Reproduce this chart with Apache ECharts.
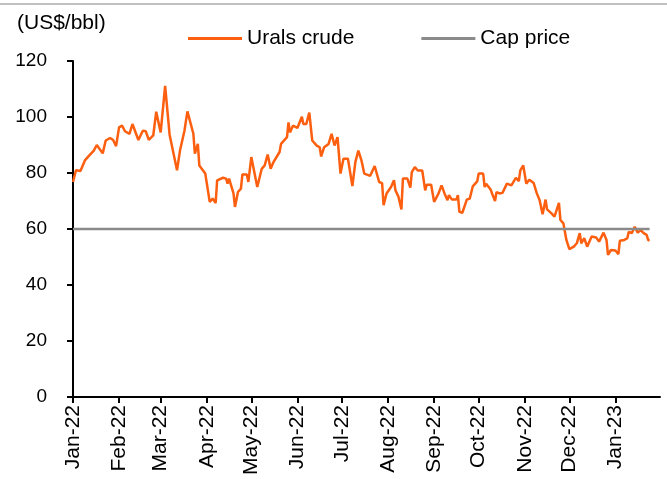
<!DOCTYPE html>
<html style="height: 100%">
<head>
<meta charset="utf-8">
<script src="https://cdn.jsdelivr.net/npm/echarts@6/dist/echarts.min.js"></script>
</head>
<body style="height: 100%; margin: 0; background: #fff">
<div id="container" style="width: 667px; height: 479px"></div>
<script type="text/javascript">
// Urals crude price (US$/bbl)
var dates = [
  '2022-01-01','2022-01-03','2022-01-06','2022-01-09','2022-01-12','2022-01-15','2022-01-17','2022-01-21','2022-01-23','2022-01-26','2022-01-28','2022-01-30',
  '2022-02-01','2022-02-03','2022-02-05','2022-02-08','2022-02-10','2022-02-14','2022-02-17','2022-02-19','2022-02-21','2022-02-24','2022-02-26',
  '2022-03-01','2022-03-04','2022-03-07','2022-03-12','2022-03-14','2022-03-17','2022-03-19','2022-03-23','2022-03-24','2022-03-26','2022-03-27','2022-03-31',
  '2022-04-03','2022-04-05','2022-04-07','2022-04-08','2022-04-12','2022-04-14','2022-04-15','2022-04-16','2022-04-19','2022-04-20','2022-04-22','2022-04-24','2022-04-25','2022-04-28','2022-04-29',
  '2022-05-01','2022-05-05','2022-05-08','2022-05-10','2022-05-12','2022-05-14','2022-05-16','2022-05-20','2022-05-21','2022-05-25','2022-05-26','2022-05-27','2022-05-29',
  '2022-06-01','2022-06-04','2022-06-05','2022-06-07','2022-06-09','2022-06-11','2022-06-14','2022-06-16','2022-06-17','2022-06-19','2022-06-22','2022-06-24','2022-06-26','2022-06-28','2022-06-30',
  '2022-07-02','2022-07-05','2022-07-07','2022-07-08','2022-07-10','2022-07-12','2022-07-14','2022-07-16','2022-07-20','2022-07-23','2022-07-26','2022-07-28','2022-07-29','2022-07-31',
  '2022-08-03','2022-08-05','2022-08-06','2022-08-08','2022-08-10','2022-08-11','2022-08-14','2022-08-16','2022-08-17','2022-08-19','2022-08-21','2022-08-24','2022-08-26','2022-08-27','2022-08-30',
  '2022-09-01','2022-09-04','2022-09-06','2022-09-08','2022-09-10','2022-09-11','2022-09-13','2022-09-16','2022-09-17','2022-09-18','2022-09-20','2022-09-23','2022-09-25','2022-09-27','2022-09-30',
  '2022-10-01','2022-10-04','2022-10-05','2022-10-06','2022-10-09','2022-10-10','2022-10-12','2022-10-13','2022-10-15','2022-10-17','2022-10-20','2022-10-23','2022-10-24','2022-10-26','2022-10-28','2022-10-29','2022-10-31',
  '2022-11-02','2022-11-04','2022-11-07','2022-11-09','2022-11-11','2022-11-13','2022-11-15','2022-11-16','2022-11-19','2022-11-21','2022-11-24','2022-11-25','2022-11-27','2022-11-29',
  '2022-12-01','2022-12-04','2022-12-06','2022-12-08','2022-12-09','2022-12-11','2022-12-13','2022-12-16','2022-12-19','2022-12-21','2022-12-24','2022-12-26','2022-12-27','2022-12-29',
  '2023-01-01','2023-01-03','2023-01-04','2023-01-07','2023-01-09','2023-01-10','2023-01-12','2023-01-14','2023-01-15','2023-01-16','2023-01-18','2023-01-20','2023-01-22','2023-01-23','2023-01-24'
];
var urals = [
  76.8, 81, 80.7, 84.5, 86.3, 88, 90, 87, 91.6, 92.5, 91.8, 89.6,
  96.3, 96.9, 94.9, 94, 97.5, 91.8, 95.1, 94.9, 91.8, 93.4, 101.9,
  94.5, 111.1, 93.7, 81, 88, 95.1, 102, 94, 86.9, 90.4, 82.7, 79.8,
  69.7, 70.9, 69.3, 77.4, 78.3, 78, 76.2, 78, 72.7, 67.9, 73.2, 74.4, 79.5, 79.5, 76.8,
  85.7, 75, 81.5, 82.7, 86.6, 81.5, 84, 87.5, 90.4, 92.8, 98.1, 94.5, 96.9,
  96.1, 100.1, 97.5, 97.5, 101.6, 91.6, 89.8, 89.2, 85.9, 89.2, 90.4, 94, 89.8, 92.8, 79.8,
  85.1, 85.1, 78.6, 75.3, 83.9, 88, 84.7, 79.8, 79, 82.5, 76.8, 76.4, 68.5, 72.7,
  75, 77.4, 73.8, 71.5, 67, 78, 78, 74.8, 80.3, 82.1, 80.9, 80.9, 73.8, 75.8, 75.8,
  69.7, 72.7, 75.6, 72.7, 70.3, 72.1, 70.5, 70.5, 72.1, 66.1, 65.8, 70.5, 70.9, 75.2, 77,
  79.8, 79.8, 75, 76.2, 74.1, 72.7, 70, 73.2, 72.7, 72.9, 76.2, 75.6, 75.3, 78.3, 77.1, 80.9, 82.7,
  76.2, 77.6, 76.4, 72.9, 70.3, 65.3, 70.5, 67, 65.6, 64.4, 69.3, 63.2, 62, 56.1,
  52.8, 53.7, 54.9, 58.5, 54.9, 56.7, 53.7, 57.3, 57, 55.5, 58.7, 56.1, 50.8, 52.5,
  52.3, 51, 55.8, 56.1, 56.7, 59, 58.5, 60.8, 61.4, 58.7, 59.6, 58.5, 57.9, 56.1, 55.8
];
var capPrice = 60;
var monthLabels = ['Jan-22','Feb-22','Mar-22','Apr-22','May-22','Jun-22','Jul-22','Aug-22','Sep-22','Oct-22','Nov-22','Dec-22','Jan-23'];
var axisStart = '2022-01-01';
var axisEnd = '2023-01-31';

// one category per calendar day so months are spaced by their length
var days = [];
var d = new Date(axisStart + 'T00:00:00Z');
var end = new Date(axisEnd + 'T00:00:00Z');
while (d <= end) {
  days.push(d.toISOString().slice(0, 10));
  d.setUTCDate(d.getUTCDate() + 1);
}
function isMonthStart(v) { return v.slice(8) === '01'; }
function monthIndex(v) {
  return (parseInt(v.slice(0, 4)) - 2022) * 12 + parseInt(v.slice(5, 7)) - 1;
}

var uralsData = dates.map(function (t, i) { return [t, urals[i]]; });
var capData = [[dates[0], capPrice], [dates[dates.length - 1], capPrice]];

var font = 'Liberation Sans, Arial, sans-serif';
var myChart = echarts.init(document.getElementById('container'));

var option = {
  animation: false,
  title: {
    text: '(US$/bbl)',
    left: 12,
    top: 8,
    textStyle: { fontFamily: font, fontSize: 21, fontWeight: 'normal', color: '#000' }
  },
  legend: {
    top: 23,
    left: 183,
    itemWidth: 54,
    itemHeight: 3,
    itemGap: 67,
    icon: 'rect',
    textStyle: { fontFamily: font, fontSize: 21, color: '#000' },
    data: ['Urals crude', 'Cap price']
  },
  graphic: [{
    type: 'line',
    shape: { x1: 0, y1: 4, x2: 667, y2: 4 },
    style: { stroke: '#c0c0c0', lineWidth: 2 }
  }],
  grid: { left: 73, right: 7, top: 61, bottom: 82 },
  xAxis: {
    type: 'category',
    data: days,
    boundaryGap: false,
    axisLine: { lineStyle: { color: '#000', width: 2 } },
    axisTick: { interval: function (i, v) { return isMonthStart(v); }, length: 6, lineStyle: { color: '#000', width: 2 } },
    axisLabel: {
      interval: function (i, v) { return isMonthStart(v); },
      rotate: 90,
      margin: 8,
      fontFamily: font,
      fontSize: 21,
      color: '#000',
      formatter: function (v) { return monthLabels[monthIndex(v)]; }
    },
    splitLine: { show: false }
  },
  yAxis: {
    type: 'value',
    min: 0,
    max: 120,
    interval: 20,
    axisLine: { show: true, lineStyle: { color: '#000', width: 2 } },
    axisTick: { show: true, length: 6, lineStyle: { color: '#000', width: 2 } },
    axisLabel: { margin: 26, fontFamily: font, fontSize: 19, color: '#000' },
    splitLine: { show: false }
  },
  series: [
    {
      name: 'Urals crude',
      type: 'line',
      data: uralsData,
      symbol: 'none',
      lineStyle: { color: '#fb5f0f', width: 2.5 },
      itemStyle: { color: '#fb5f0f' }
    },
    {
      name: 'Cap price',
      type: 'line',
      data: capData,
      symbol: 'none',
      lineStyle: { color: '#8a8a8a', width: 2.5 },
      itemStyle: { color: '#8a8a8a' }
    }
  ]
};
myChart.setOption(option);
</script>
</body>
</html>
